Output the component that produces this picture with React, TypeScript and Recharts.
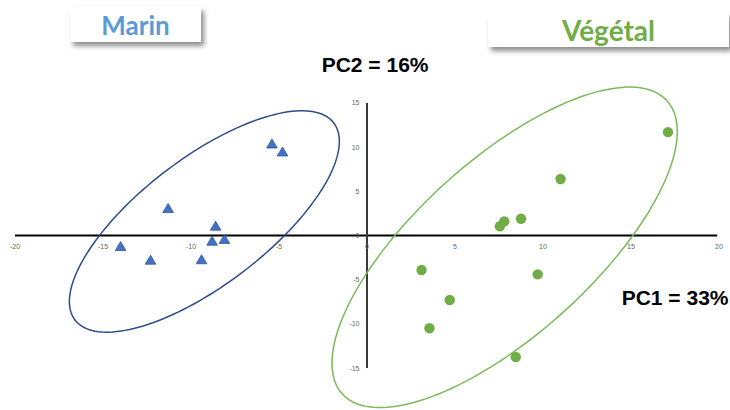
import React from 'react';
import { ScatterChart, Scatter, XAxis, YAxis, ReferenceLine, ReferenceDot } from 'recharts';

// PCA scores
const marinX = [-5.4, -4.8, -11.3, -8.6, -8.1, -8.8, -14.0, -12.3, -9.4];
const marinY = [10.4, 9.5, 3.1, 1.1, -0.4, -0.6, -1.2, -2.75, -2.7];
const vegetalX = [17.1, 11.0, 8.75, 7.8, 7.55, 3.1, 9.7, 4.7, 3.55, 8.45];
const vegetalY = [11.7, 6.4, 1.9, 1.6, 1.05, -3.9, -4.4, -7.3, -10.5, -13.75];

const xTicks = [-20, -15, -10, -5, 0, 5, 10, 15, 20];
const yTicks = [-15, -10, -5, 0, 5, 10, 15];

// confidence ellipses: [centre x, centre y, x semi-axis, y cos-term, y sin-term]
const marinEllipse = [-9.24, 1.59, 7.67, 9.06, 8.66];
const vegetalEllipse = [7.82, -1.34, 9.81, 13.11, 12.54];

const toPoints = (xs: number[], ys: number[]) => xs.map((x, i) => ({ x, y: ys[i] }));

const outline = (e: number[]) => {
  const pts: { x: number; y: number }[] = [];
  const n = 160;
  for (let i = 0; i <= n; i++) {
    const t = (2 * Math.PI * i) / n;
    pts.push({ x: e[0] + e[2] * Math.cos(t), y: e[1] + e[3] * Math.cos(t) + e[4] * Math.sin(t) });
  }
  return pts;
};

const marinData = toPoints(marinX, marinY);
const vegetalData = toPoints(vegetalX, vegetalY);
const marinOutline = outline(marinEllipse);
const vegetalOutline = outline(vegetalEllipse);

const Triangle = (p: any) => {
  const { cx, cy } = p;
  return (
    <polygon
      points={`${cx},${cy - 4.6} ${cx - 5.3},${cy + 4.4} ${cx + 5.3},${cy + 4.4}`}
      fill="#4472C4"
      stroke="#2F5597"
      strokeWidth={0.8}
    />
  );
};

const Dot = (p: any) => <circle cx={p.cx} cy={p.cy} r={5.2} fill="#70AD47" />;

const Empty = () => <g />;

const tickFont = { fontFamily: 'Liberation Sans, Arial, sans-serif', fontSize: 7, fill: '#666666' };

export default function App() {
  return (
    <div style={{ position: 'absolute', left: 0, top: 0, width: 730, height: 410, overflow: 'hidden', background: '#fff' }}>
      <ScatterChart width={730} height={415} margin={{ top: 58.83, right: 11, bottom: 2.83, left: 15 }}>
        <XAxis type="number" dataKey="x" domain={[-20, 20]} hide />
        <YAxis type="number" dataKey="y" domain={[-20, 20]} hide />
        {xTicks.map((t) => (
          <ReferenceDot
            key={'xt' + t}
            x={t}
            y={0}
            r={0}
            shape={(p: any) => (
              <text x={p.cx} y={p.cy + 13.7} textAnchor="middle" {...tickFont}>
                {t}
              </text>
            )}
          />
        ))}
        {yTicks.map((t) => (
          <ReferenceDot
            key={'yt' + t}
            x={0}
            y={t}
            r={0}
            shape={(p: any) => (
              <text x={p.cx - 7.5} y={p.cy + 2.5} textAnchor="end" {...tickFont}>
                {t}
              </text>
            )}
          />
        ))}
        <ReferenceLine segment={[{ x: -20, y: 0 }, { x: 19.9, y: 0 }]} stroke="#000000" strokeWidth={2} />
        <ReferenceLine segment={[{ x: 0, y: -15 }, { x: 0, y: 15 }]} stroke="#3A3A3A" strokeWidth={2} />
        <Scatter
          data={marinOutline}
          shape={Empty}
          line={{ stroke: '#2F4B8C', strokeWidth: 1.5 }}
          lineType="joint"
          legendType="none"
          isAnimationActive={false}
        />
        <Scatter
          data={vegetalOutline}
          shape={Empty}
          line={{ stroke: '#7DB95A', strokeWidth: 1.5 }}
          lineType="joint"
          legendType="none"
          isAnimationActive={false}
        />
        <Scatter data={marinData} shape={Triangle} isAnimationActive={false} />
        <Scatter data={vegetalData} shape={Dot} isAnimationActive={false} />
      </ScatterChart>

      <div
        style={{
          position: 'absolute', left: 70, top: 7, width: 131, height: 35, background: '#fff',
          boxShadow: '3px 4px 5px rgba(0,0,0,0.45)', display: 'flex', alignItems: 'center', justifyContent: 'center',
          fontFamily: 'Lato, sans-serif', fontWeight: 700, fontSize: 26, color: '#5B9BD5',
        }}
      >
        Marin
      </div>
      <div
        style={{
          position: 'absolute', left: 488, top: 13, width: 241, height: 34, background: '#fff',
          boxShadow: '3px 4px 5px rgba(0,0,0,0.45)', display: 'flex', alignItems: 'center', justifyContent: 'center',
          fontFamily: 'Lato, sans-serif', fontWeight: 700, fontSize: 28, color: '#70AD47',
        }}
      >
        Végétal
      </div>
      <svg width={730} height={410} style={{ position: 'absolute', left: 0, top: 0, pointerEvents: 'none' }}>
        <text x={321.7} y={71.7} fontFamily="Liberation Sans, Arial, sans-serif" fontWeight={700} fontSize={21} fill="#000">
          PC2 = 16%
        </text>
        <text x={621.7} y={305} fontFamily="Liberation Sans, Arial, sans-serif" fontWeight={700} fontSize={21} fill="#000">
          PC1 = 33%
        </text>
      </svg>
    </div>
  );
}
